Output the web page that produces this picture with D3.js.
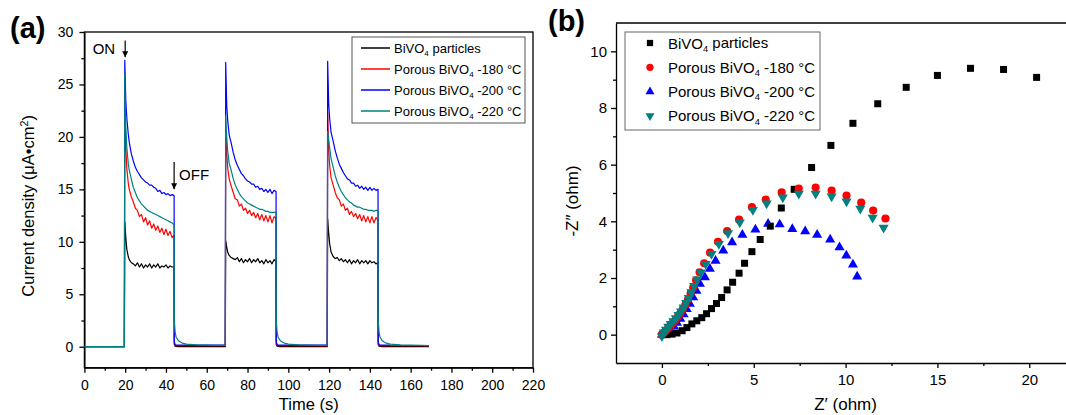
<!DOCTYPE html>
<html>
<head>
<meta charset="utf-8">
<script src="https://cdn.jsdelivr.net/npm/d3@7"></script>
<style>
  body { margin: 0; background: #fff; }
  svg { display: block; font-family: "Liberation Sans", Arial, sans-serif; }
  .axis path, .axis line { stroke: #000; stroke-width: 1.3; }
  .axis text { fill: #000; }
</style>
</head>
<body>
<div id="d3-target"></div>
<script>
// ---- panel (a): transient photocurrent ----
const timeSec = [
  0, 10, 19.6,
  19.8, 20.3, 20.8, 21.5, 22, 23, 24, 25, 26, 27, 28, 29, 30, 31, 32, 33, 34, 35, 36, 37, 38, 39, 40, 41, 42, 43, 44,
  44.1, 44.5, 45, 46, 47, 48, 50, 55, 60, 65, 69.1,
  69.3, 69.8, 70.3, 71, 72, 73, 74, 75, 76, 77, 78, 79, 80, 81, 82, 83, 84, 85, 86, 87, 88, 89, 90, 91, 92, 93, 94,
  94.1, 94.5, 95, 96, 97, 98, 100, 105, 110, 115, 119.1,
  119.3, 119.8, 120.3, 121, 122, 123, 124, 125, 126, 127, 128, 129, 130, 131, 132, 133, 134, 135, 136, 137, 138, 139, 140, 141, 142, 143, 144,
  144.1, 144.5, 145, 146, 147, 148, 150, 155, 160, 165, 169
];

const currParticles = [
  0, 0, 0,
  11.9, 10.4, 9.3, 8.6, 8.3, 8.0, 7.9, 7.7, 8.0, 7.6, 7.9, 7.5, 7.8, 7.6, 7.9, 7.5, 7.8, 7.6, 7.9, 7.5, 7.7, 7.6, 7.8, 7.5, 7.7, 7.6, 7.6,
  0.2, 0.05, 0.02, 0, 0, 0, 0, 0, 0, 0, 0,
  10.1, 9.5, 9.0, 8.7, 8.5, 8.4, 8.3, 8.5, 8.1, 8.4, 8.0, 8.3, 8.1, 8.4, 8.0, 8.3, 8.1, 8.4, 8.0, 8.2, 7.9, 8.3, 8.0, 8.2, 7.9, 8.3, 8.1,
  0.2, 0.05, 0.02, 0, 0, 0, 0, 0, 0, 0, 0,
  12.2, 10.8, 9.8, 9.0, 8.6, 8.4, 8.5, 8.2, 8.4, 8.1, 8.3, 8.0, 8.3, 7.9, 8.2, 8.0, 8.3, 7.9, 8.2, 8.0, 8.2, 7.9, 8.2, 8.0, 8.1, 7.9, 8.0,
  0.2, 0.05, 0.02, 0, 0, 0, 0, 0, 0, 0, 0
];

const curr180 = [
  0, 0, 0,
  24.0, 19.0, 17.0, 15.6, 15.0, 14.3, 13.8, 13.2, 13.0, 12.4, 12.6, 11.9, 12.3, 11.6, 12.0, 11.3, 11.7, 11.1, 11.5, 10.9, 11.3, 10.7, 11.2, 10.6, 11.0, 10.4, 10.6,
  0.3, 0.12, 0.1, 0.1, 0.1, 0.1, 0.1, 0.1, 0.1, 0.1, 0.1,
  21.0, 18.5, 17.0, 16.0, 15.3, 14.7, 14.1, 14.0, 13.4, 13.6, 13.0, 13.2, 12.7, 13.0, 12.5, 12.8, 12.3, 12.7, 12.1, 12.6, 12.0, 12.5, 11.9, 12.5, 11.8, 12.4, 12.2,
  0.3, 0.12, 0.1, 0.1, 0.1, 0.1, 0.1, 0.1, 0.1, 0.1, 0.1,
  22.3, 18.8, 17.2, 16.1, 15.4, 14.7, 14.2, 14.0, 13.4, 13.6, 13.0, 13.2, 12.6, 12.9, 12.4, 12.7, 12.2, 12.6, 12.0, 12.5, 11.9, 12.4, 11.8, 12.4, 11.8, 12.3, 12.1,
  0.3, 0.12, 0.1, 0.1, 0.1, 0.1, 0.1, 0.1, 0.1, 0.1, 0.1
];

const curr200 = [
  0, 0, 0,
  27.3, 23.5, 21.8, 20.3, 19.5, 18.4, 17.7, 17.1, 16.7, 16.4, 16.1, 15.9, 15.7, 15.6, 15.4, 15.4, 15.2, 15.1, 14.8, 14.9, 14.6, 14.7, 14.5, 14.6, 14.4, 14.5, 14.4,
  0.5, 0.2, 0.15, 0.15, 0.15, 0.15, 0.15, 0.15, 0.15, 0.15, 0.15,
  27.1, 23.0, 21.5, 20.2, 19.4, 18.5, 17.8, 17.3, 16.9, 16.5, 16.3, 16.0, 15.8, 15.7, 15.5, 15.5, 15.2, 15.3, 15.0, 15.1, 14.8, 15.0, 14.7, 15.0, 14.6, 14.9, 14.8,
  0.5, 0.2, 0.15, 0.15, 0.15, 0.15, 0.15, 0.15, 0.15, 0.15, 0.15,
  27.2, 23.2, 21.7, 20.4, 19.6, 18.7, 18.0, 17.4, 17.0, 16.6, 16.3, 16.0, 15.9, 15.6, 15.6, 15.3, 15.4, 15.1, 15.3, 15.0, 15.2, 14.9, 15.2, 14.9, 15.1, 14.9, 15.0,
  0.5, 0.2, 0.15, 0.15, 0.15, 0.15, 0.15, null, null, null, null
];

const curr220 = [
  0, 0, 0,
  26.0, 21.0, 19.0, 17.5, 16.8, 16.0, 15.2, 14.7, 14.2, 13.9, 13.6, 13.4, 13.2, 13.0, 12.9, 12.8, 12.7, 12.6, 12.5, 12.4, 12.3, 12.2, 12.1, 12.0, 11.9, 11.8, 11.6,
  2.5, 1.4, 0.9, 0.6, 0.45, 0.35, 0.25, 0.18, 0.15, 0.12, 0.12,
  22.0, 20.0, 18.6, 17.5, 16.8, 16.0, 15.4, 15.0, 14.6, 14.3, 14.1, 13.9, 13.7, 13.6, 13.5, 13.4, 13.3, 13.2, 13.1, 13.1, 13.0, 12.9, 12.9, 12.8, 12.8, 12.8, 12.8,
  2.5, 1.4, 0.9, 0.6, 0.45, 0.35, 0.25, 0.18, 0.15, 0.12, 0.12,
  20.5, 19.8, 18.9, 17.9, 17.1, 16.3, 15.7, 15.2, 14.8, 14.5, 14.2, 14.0, 13.8, 13.7, 13.5, 13.4, 13.3, 13.3, 13.2, 13.1, 13.1, 13.0, 13.0, 13.0, 12.9, 13.0, 13.0,
  2.5, 1.4, 0.9, 0.6, 0.45, 0.35, 0.25, 0.18, 0.15, 0.12, 0.1
];

// ---- panel (b): Nyquist plot ----
const zreParticles = [0.02, 0.27, 0.55, 0.82, 1.1, 1.36, 1.63, 1.9, 2.17, 2.43, 2.7, 2.97, 3.25, 3.55, 3.85, 4.2, 4.5, 4.9, 5.35, 5.9, 6.5, 7.2, 8.15, 9.2, 10.4, 11.75, 13.3, 15.0, 16.8, 18.6, 20.4];
const zimParticles = [0.0, 0.0, 0.02, 0.06, 0.14, 0.25, 0.38, 0.49, 0.6, 0.74, 0.92, 1.1, 1.31, 1.58, 1.85, 2.17, 2.52, 2.93, 3.36, 3.83, 4.47, 5.13, 5.9, 6.68, 7.46, 8.15, 8.73, 9.15, 9.4, 9.36, 9.08];

const zre180 = [0.0, 0.1, 0.2, 0.32, 0.45, 0.58, 0.72, 0.86, 1.0, 1.14, 1.28, 1.42, 1.56, 1.7, 1.86, 2.05, 2.3, 2.62, 3.05, 3.55, 4.2, 4.9, 5.65, 6.52, 7.45, 8.37, 9.24, 10.05, 10.85, 11.5, 12.17];
const zim180 = [0.0, 0.06, 0.13, 0.21, 0.3, 0.4, 0.5, 0.62, 0.75, 0.9, 1.06, 1.24, 1.45, 1.66, 1.92, 2.2, 2.52, 2.9, 3.28, 3.66, 4.06, 4.5, 4.77, 5.02, 5.16, 5.19, 5.09, 4.91, 4.66, 4.38, 4.1];

const zre200 = [0.0, 0.12, 0.28, 0.46, 0.64, 0.82, 1.0, 1.18, 1.35, 1.52, 1.7, 1.88, 2.07, 2.34, 2.61, 2.92, 3.34, 3.82, 4.38, 5.09, 5.78, 6.41, 7.1, 7.8, 8.45, 9.16, 9.67, 10.04, 10.4, 10.63];
const zim200 = [0.0, 0.03, 0.09, 0.18, 0.3, 0.42, 0.56, 0.72, 0.9, 1.09, 1.32, 1.55, 1.79, 2.02, 2.32, 2.61, 2.97, 3.26, 3.52, 3.71, 3.91, 3.89, 3.73, 3.65, 3.52, 3.36, 3.08, 2.79, 2.47, 2.05];

const zre220 = [0.0, 0.1, 0.22, 0.35, 0.48, 0.62, 0.76, 0.9, 1.04, 1.18, 1.32, 1.46, 1.6, 1.75, 1.92, 2.12, 2.38, 2.7, 3.1, 3.6, 4.24, 4.95, 5.7, 6.58, 7.45, 8.37, 9.24, 10.05, 10.8, 11.47, 12.07];
const zim220 = [-0.05, 0.08, 0.18, 0.28, 0.38, 0.48, 0.58, 0.7, 0.82, 0.96, 1.12, 1.3, 1.5, 1.72, 1.95, 2.2, 2.5, 2.85, 3.2, 3.58, 3.96, 4.4, 4.63, 4.84, 4.98, 4.98, 4.88, 4.7, 4.45, 4.13, 3.78];

// ---- labels and ticks ----
const legendPre = ['BiVO', 'Porous BiVO', 'Porous BiVO', 'Porous BiVO'];
const legendPost = [' particles', ' -180 \u00B0C', ' -200 \u00B0C', ' -220 \u00B0C'];
const xTicksA = [0, 20, 40, 60, 80, 100, 120, 140, 160, 180, 200, 220];
const yTicksA = [0, 5, 10, 15, 20, 25, 30];
const xTicksB = [0, 5, 10, 15, 20];
const yTicksB = [0, 2, 4, 6, 8, 10];

const colors = ['#000000', '#ff0000', '#0000ff', '#008080'];

const svg = d3.select('#d3-target')
  .append('svg')
  .attr('width', 1066)
  .attr('height', 415);

svg.append('defs').append('marker')
  .attr('id', 'arrow')
  .attr('viewBox', '0 0 10 10')
  .attr('refX', 10).attr('refY', 5)
  .attr('markerWidth', 6).attr('markerHeight', 8)
  .attr('markerUnits', 'userSpaceOnUse')
  .attr('orient', 'auto')
  .append('path')
  .attr('d', 'M0,0L10,5L0,10Z')
  .attr('fill', '#000');

function drawAxes(x, y, box, xMajor, yMajor, xMinor, yMinor, fontSize, padX, padY) {
  const clean = g => g.attr('font-size', fontSize).attr('font-family', null);
  svg.append('g').attr('class', 'axis')
    .attr('transform', `translate(0,${box.bottom})`)
    .call(d3.axisBottom(x).tickValues(xMinor).tickSize(3).tickFormat(''))
    .call(g => g.select('.domain').remove());
  svg.append('g').attr('class', 'axis')
    .attr('transform', `translate(${box.left},0)`)
    .call(d3.axisLeft(y).tickValues(yMinor).tickSize(3).tickFormat(''))
    .call(g => g.select('.domain').remove());
  svg.append('g').attr('class', 'axis')
    .attr('transform', `translate(0,${box.bottom})`)
    .call(d3.axisBottom(x).tickValues(xMajor).tickSizeInner(5).tickSizeOuter(0).tickPadding(padX))
    .call(clean);
  svg.append('g').attr('class', 'axis')
    .attr('transform', `translate(${box.left},0)`)
    .call(d3.axisLeft(y).tickValues(yMajor).tickSizeInner(5).tickSizeOuter(0).tickPadding(padY))
    .call(clean);
}

function subText(sel, pre, post, sub) {
  sel.append('tspan').text(pre);
  sel.append('tspan').attr('font-size', '0.62em').attr('dy', '0.35em').text(sub);
  sel.append('tspan').attr('dy', '-0.22em').text(post);
}

// ================= panel (a) =================
const A = {left: 84.4, right: 533, top: 32, bottom: 367.7};
const xA = d3.scaleLinear().domain([0, 220]).range([A.left, A.right]);
const yA = d3.scaleLinear().domain([-2, 30]).range([A.bottom, A.top]);

svg.append('rect')
  .attr('x', A.left).attr('y', A.top)
  .attr('width', A.right - A.left).attr('height', A.bottom - A.top)
  .attr('fill', 'none').attr('stroke', '#000').attr('stroke-width', 1.3);

drawAxes(xA, yA, A, xTicksA, yTicksA,
  d3.range(10, 220, 20), d3.range(2.5, 30, 5), 14, 7, 6);

const currents = [currParticles, curr180, curr200, curr220];
const line = d3.line()
  .defined(d => d.v != null)
  .x(d => xA(d.t))
  .y(d => yA(d.v));

currents.forEach((vals, i) => {
  svg.append('path')
    .datum(timeSec.map((t, k) => ({t, v: vals[k]})))
    .attr('fill', 'none')
    .attr('stroke', colors[i])
    .attr('stroke-width', 1.2)
    .attr('stroke-linejoin', 'round')
    .attr('d', line);
});

// ON / OFF annotations
svg.append('line')
  .attr('x1', xA(20)).attr('x2', xA(20))
  .attr('y1', yA(29.2)).attr('y2', yA(27.6))
  .attr('stroke', '#000').attr('stroke-width', 1.2)
  .attr('marker-end', 'url(#arrow)');
svg.append('text')
  .attr('x', xA(20) - 10).attr('y', yA(27.9))
  .attr('text-anchor', 'end').attr('font-size', 15)
  .text('ON');
svg.append('line')
  .attr('x1', xA(44)).attr('x2', xA(44))
  .attr('y1', yA(17.6)).attr('y2', yA(15.0))
  .attr('stroke', '#000').attr('stroke-width', 1.2)
  .attr('marker-end', 'url(#arrow)');
svg.append('text')
  .attr('x', xA(44) + 5).attr('y', yA(15.85))
  .attr('font-size', 15)
  .text('OFF');

// legend (a)
const legA = svg.append('g').attr('transform', 'translate(352,37)');
legA.append('rect')
  .attr('width', 173).attr('height', 86)
  .attr('fill', '#fff').attr('stroke', '#555').attr('stroke-width', 1);
colors.forEach((c, i) => {
  const yy = 11 + i * 21;
  legA.append('line')
    .attr('x1', 9).attr('x2', 38).attr('y1', yy).attr('y2', yy)
    .attr('stroke', c).attr('stroke-width', 1.5);
  const t = legA.append('text')
    .attr('x', 42).attr('y', yy + 5).attr('font-size', 13);
  subText(t, legendPre[i], legendPost[i], '4');
});

// axis titles (a)
svg.append('text')
  .attr('x', (A.left + A.right) / 2).attr('y', 410)
  .attr('text-anchor', 'middle').attr('font-size', 16.5)
  .text('Time (s)');
const yTitleA = svg.append('text')
  .attr('transform', `translate(34,${(A.top + A.bottom) / 2 + 6}) rotate(-90)`)
  .attr('text-anchor', 'middle').attr('font-size', 16.5);
yTitleA.append('tspan').text('Current density (\u03BCA\u2022cm');
yTitleA.append('tspan').attr('font-size', '0.65em').attr('dy', '-0.6em').text('2');
yTitleA.append('tspan').attr('dy', '0.4em').text(')');

svg.append('text')
  .attr('x', 10).attr('y', 38)
  .attr('font-size', 29).attr('font-weight', 'bold')
  .text('(a)');

// ================= panel (b) =================
const B = {left: 616, right: 1066, top: 23, bottom: 363};
const xB = d3.scaleLinear().domain([-2.5, 22]).range([B.left, B.right]);
const yB = d3.scaleLinear().domain([-1, 11]).range([B.bottom, B.top]);

svg.append('line')
  .attr('x1', B.left).attr('x2', B.right)
  .attr('y1', B.top).attr('y2', B.top)
  .attr('stroke', '#000').attr('stroke-width', 1.3);

drawAxes(xB, yB, B, xTicksB, yTicksB,
  [2.5, 7.5, 12.5, 17.5], [1, 3, 5, 7, 9], 15, 6, 4);

const nyquist = [
  {re: zreParticles, im: zimParticles, sym: d3.symbolSquare, size: 49, rot: 0},
  {re: zre180, im: zim180, sym: d3.symbolCircle, size: 52, rot: 0},
  {re: zre200, im: zim200, sym: d3.symbolTriangle, size: 44, rot: 0},
  {re: zre220, im: zim220, sym: d3.symbolTriangle, size: 44, rot: 180}
];

// draw order: -200, particles, -180, -220
[2, 0, 1, 3].forEach(i => {
  const s = nyquist[i];
  svg.append('g')
    .selectAll('path')
    .data(s.re.map((r, k) => ({r, m: s.im[k]})))
    .enter().append('path')
    .attr('d', d3.symbol().type(s.sym).size(s.size))
    .attr('transform', d => `translate(${xB(d.r)},${yB(d.m)}) rotate(${s.rot})`)
    .attr('fill', colors[i]);
});

// legend (b)
const legB = svg.append('g').attr('transform', 'translate(625,32)');
legB.append('rect')
  .attr('width', 195).attr('height', 98)
  .attr('fill', '#fff').attr('stroke', '#666').attr('stroke-width', 1);
nyquist.forEach((s, i) => {
  const yy = 11 + i * 24.3;
  legB.append('path')
    .attr('d', d3.symbol().type(s.sym).size(s.size * 0.8)())
    .attr('transform', `translate(25,${yy}) rotate(${s.rot})`)
    .attr('fill', colors[i]);
  const t = legB.append('text')
    .attr('x', 43).attr('y', yy + 5.5).attr('font-size', 15);
  subText(t, legendPre[i], legendPost[i], '4');
});

// axis titles (b)
svg.append('text')
  .attr('x', xB(10)).attr('y', 410)
  .attr('text-anchor', 'middle').attr('font-size', 17)
  .text('Z\u2032 (ohm)');
svg.append('text')
  .attr('transform', `translate(578,${(B.top + B.bottom) / 2 + 8}) rotate(-90)`)
  .attr('text-anchor', 'middle').attr('font-size', 17)
  .text('-Z\u2033 (ohm)');

svg.append('text')
  .attr('x', 548).attr('y', 31)
  .attr('font-size', 29).attr('font-weight', 'bold')
  .text('(b)');
</script>
</body>
</html>
